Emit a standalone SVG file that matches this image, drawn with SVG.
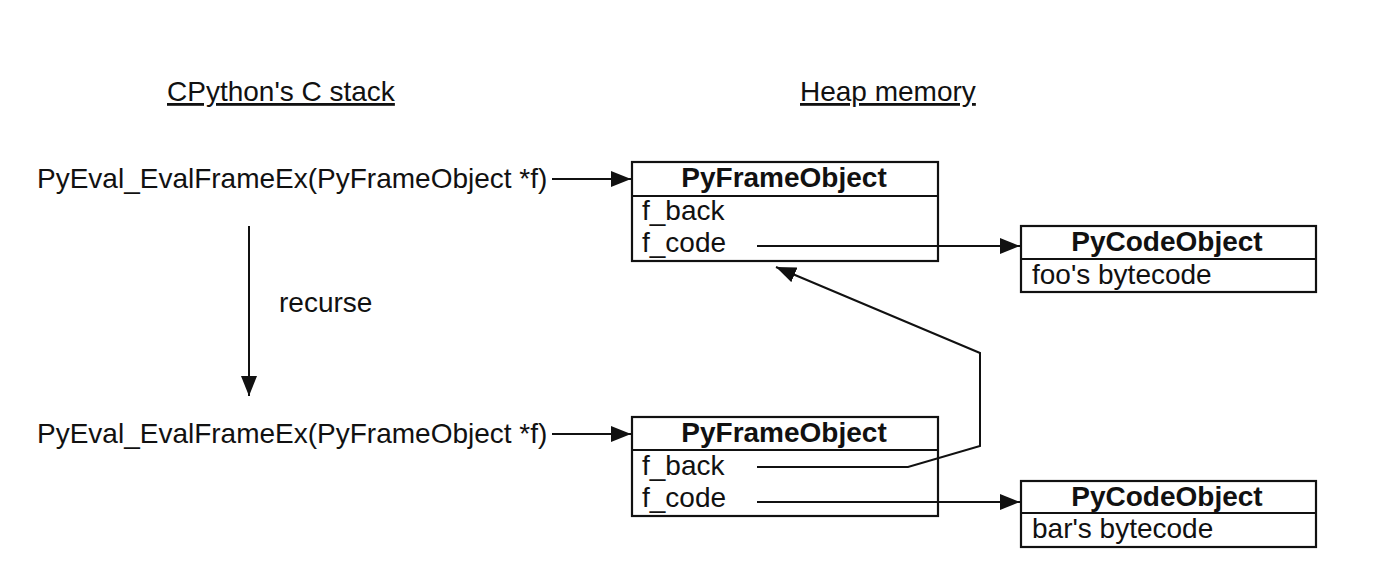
<svg xmlns="http://www.w3.org/2000/svg" width="1376" height="575" viewBox="0 0 1376 575">
<style>
text{font-family:"Liberation Sans",Arial,sans-serif;font-size:28px;fill:#111}
.b{font-weight:bold;text-anchor:middle}
.u{text-decoration:underline}
.box{fill:#fff;stroke:#111;stroke-width:2.2}
.ln{fill:none;stroke:#111;stroke-width:2.2}
.c{fill:none;stroke:#111;stroke-width:2;marker-end:url(#ah)}
</style>
<defs>
<marker id="ah" viewBox="0 0 20 16" refX="20" refY="8" markerWidth="20" markerHeight="16" markerUnits="userSpaceOnUse" orient="auto">
<path d="M0,0 L20,8 L0,16 Z" fill="#111"/>
</marker>
</defs>
<rect width="1376" height="575" fill="#fff"/>
<g id="titles">
<text x="167" y="101" class="u">CPython's C stack</text>
<text x="800" y="101" class="u">Heap memory</text>
</g>
<g id="call1"><text x="37" y="188">PyEval_EvalFrameEx(PyFrameObject *f)</text></g>
<g id="call2"><text x="37" y="443">PyEval_EvalFrameEx(PyFrameObject *f)</text></g>
<g id="recurse-label"><text x="279" y="312">recurse</text></g>
<g id="frame1">
<rect class="box" x="632" y="162" width="306" height="99"/>
<line class="ln" x1="632" y1="196" x2="938" y2="196"/>
<text class="b" x="784" y="187">PyFrameObject</text>
<text x="642" y="220">f_back</text>
<text x="642" y="252">f_code</text>
</g>
<g id="frame2">
<rect class="box" x="632" y="417" width="306" height="99"/>
<line class="ln" x1="632" y1="450" x2="938" y2="450"/>
<text class="b" x="784" y="442">PyFrameObject</text>
<text x="642" y="475">f_back</text>
<text x="642" y="507">f_code</text>
</g>
<g id="code1">
<rect class="box" x="1021" y="226" width="295" height="66"/>
<line class="ln" x1="1021" y1="259" x2="1316" y2="259"/>
<text class="b" x="1167" y="251">PyCodeObject</text>
<text x="1032" y="284">foo's bytecode</text>
</g>
<g id="code2">
<rect class="box" x="1021" y="481" width="295" height="66"/>
<line class="ln" x1="1021" y1="513" x2="1316" y2="513"/>
<text class="b" x="1167" y="506">PyCodeObject</text>
<text x="1032" y="538">bar's bytecode</text>
</g>
<g id="connectors">
<line class="c" x1="552" y1="179" x2="631" y2="179"/>
<line class="c" x1="552" y1="434" x2="631" y2="434"/>
<line class="c" x1="249" y1="226" x2="249" y2="396"/>
<line class="c" x1="757" y1="246" x2="1020" y2="246"/>
<line class="c" x1="757" y1="502" x2="1020" y2="502"/>
<polyline class="c" points="757,467 908,467 980,446 980,353 776,267"/>
</g>
</svg>
